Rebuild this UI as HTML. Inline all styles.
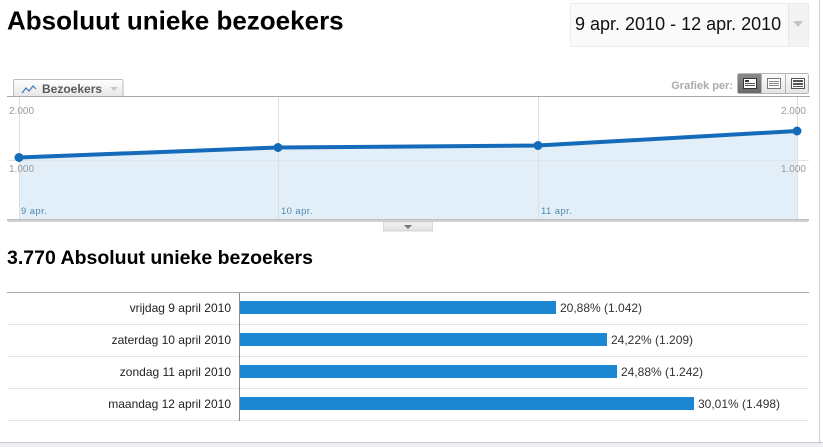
<!DOCTYPE html>
<html>
<head>
<meta charset="utf-8">
<style>
  html,body{margin:0;padding:0;background:#fff;}
  body{width:823px;height:447px;overflow:hidden;font-family:"Liberation Sans",Arial,sans-serif;}
  svg{display:block;}
</style>
</head>
<body>
<svg width="823" height="447" viewBox="0 0 823 447" xmlns="http://www.w3.org/2000/svg" font-family="Liberation Sans, Arial, sans-serif">
  <defs>
    <linearGradient id="tabg" x1="0" y1="0" x2="0" y2="1">
      <stop offset="0" stop-color="#ffffff"/>
      <stop offset="1" stop-color="#e6e6e6"/>
    </linearGradient>
    <linearGradient id="btng" x1="0" y1="0" x2="0" y2="1">
      <stop offset="0" stop-color="#fdfdfd"/>
      <stop offset="1" stop-color="#e4e4e4"/>
    </linearGradient>
    <linearGradient id="btnsel" x1="0" y1="0" x2="0" y2="1">
      <stop offset="0" stop-color="#8a8a8a"/>
      <stop offset="1" stop-color="#6a6a6a"/>
    </linearGradient>
    <linearGradient id="smallg" x1="0" y1="0" x2="0" y2="1">
      <stop offset="0" stop-color="#f4f4f4"/>
      <stop offset="1" stop-color="#dedede"/>
    </linearGradient>
  </defs>

  <!-- right border line -->
  <rect x="819" y="0" width="1" height="442" fill="#cfcfcf"/>
  <!-- bottom strip -->
  <rect x="0" y="442" width="823" height="1" fill="#c8c8c8"/>
  <rect x="0" y="443" width="823" height="4" fill="#eef0f3"/>

  <!-- Title -->
  <text x="7" y="29.5" font-size="26" font-weight="bold" fill="#000">Absoluut unieke bezoekers</text>

  <!-- Date box -->
  <rect x="570.5" y="3.5" width="238" height="43" fill="#fafafa" stroke="#ececec"/>
  <rect x="788" y="4" width="1" height="42" fill="#e8e8e8"/>
  <rect x="789" y="4" width="19" height="42" fill="#f3f3f3"/>
  <text x="575" y="30" font-size="18" fill="#111">9 apr. 2010 - 12 apr. 2010</text>
  <polygon points="793,21 803,21 798,27" fill="#c4c4c4"/>

  <!-- Tab Bezoekers -->
  <path d="M13.5,97 L13.5,81 Q13.5,79.5 15,79.5 L121.5,79.5 Q123,79.5 123,81 L123,97" fill="url(#tabg)" stroke="#bdbdbd"/>
  <polyline points="22,93 26,88 29,91 33,86 36,89" fill="none" stroke="#3a78c0" stroke-width="1.2"/>
  <text x="42" y="93" font-size="12" font-weight="bold" fill="#5a5a5a">Bezoekers</text>
  <polygon points="110,87 118,87 114,91" fill="#c8c8c8"/>

  <!-- Grafiek per -->
  <text x="733" y="89" font-size="11" font-weight="bold" fill="#ababab" text-anchor="end">Grafiek per:</text>
  <rect x="737.5" y="73.5" width="71" height="20" rx="2" fill="url(#btng)" stroke="#b5b5b5"/>
  <rect x="738" y="74" width="23" height="19" fill="url(#btnsel)"/>
  <rect x="761" y="74" width="1" height="19" fill="#b5b5b5"/>
  <rect x="785" y="74" width="1" height="19" fill="#b5b5b5"/>
  <!-- icons -->
  <rect x="743.5" y="78.5" width="13" height="10" fill="#fff" stroke="#333"/>
  <rect x="745" y="80" width="4" height="2" fill="#333"/>
  <rect x="745" y="83" width="10" height="1" fill="#555"/>
  <rect x="745" y="85" width="10" height="1" fill="#555"/>
  <rect x="767.5" y="78.5" width="13" height="10" fill="#fff" stroke="#777"/>
  <rect x="769" y="81" width="10" height="1" fill="#888"/>
  <rect x="769" y="83" width="10" height="1" fill="#888"/>
  <rect x="769" y="85" width="10" height="1" fill="#888"/>
  <rect x="791.5" y="78.5" width="13" height="10" fill="#fff" stroke="#555"/>
  <rect x="793" y="80" width="10" height="2" fill="#555"/>
  <rect x="793" y="83" width="10" height="2" fill="#555"/>
  <rect x="793" y="86" width="10" height="1" fill="#555"/>

  <!-- Chart top border -->
  <rect x="7" y="96" width="803" height="1" fill="#a9a9a9"/>

  <!-- area fill -->
  <polygon points="19,157.5 278,147.5 538,145.5 797,131 797,219 19,219" fill="#e3eff8"/>

  <!-- gridlines -->
  <rect x="7" y="160" width="802" height="1" fill="#e2e2e2" opacity="0.9"/>
  <rect x="19" y="97" width="1" height="122" fill="#dedede"/>
  <rect x="278" y="97" width="1" height="122" fill="#dedede"/>
  <rect x="538" y="97" width="1" height="122" fill="#dedede"/>
  <rect x="797" y="97" width="1" height="122" fill="#dedede"/>

  <!-- y labels -->
  <text x="9" y="114" font-size="10" fill="#9a9a9a">2.000</text>
  <text x="9" y="172" font-size="10" fill="#9a9a9a">1.000</text>
  <text x="806" y="114" font-size="10" fill="#9a9a9a" text-anchor="end">2.000</text>
  <text x="806" y="172" font-size="10" fill="#9a9a9a" text-anchor="end">1.000</text>

  <!-- x labels -->
  <text x="21" y="214" font-size="9.5" fill="#4a8aae" letter-spacing="0.4">9 apr.</text>
  <text x="281" y="214" font-size="9.5" fill="#4a8aae" letter-spacing="0.4">10 apr.</text>
  <text x="541" y="214" font-size="9.5" fill="#4a8aae" letter-spacing="0.4">11 apr.</text>

  <!-- line -->
  <polyline points="19,157.5 278,147.5 538,145.5 797,131" fill="none" stroke="#156ab9" stroke-width="4" stroke-linejoin="round"/>
  <circle cx="19" cy="157.5" r="4.5" fill="#156ab9"/>
  <circle cx="278" cy="147.5" r="4.5" fill="#156ab9"/>
  <circle cx="538" cy="145.5" r="4.5" fill="#156ab9"/>
  <circle cx="797" cy="131" r="4.5" fill="#156ab9"/>

  <!-- chart bottom bar -->
  <rect x="7" y="219" width="802" height="3" rx="1.5" fill="#d2d2d2"/>
  <rect x="7" y="219" width="802" height="1" fill="#bdbdbd"/>
  <rect x="383.5" y="222" width="49" height="9" fill="url(#smallg)" stroke="#d0d0d0" stroke-width="0.8"/>
  <polygon points="404,225 412,225 408,229" fill="#777"/>

  <!-- Heading 2 -->
  <text x="7" y="264" font-size="19.5" font-weight="bold" fill="#000">3.770 Absoluut unieke bezoekers</text>

  <!-- Bar table -->
  <rect x="7" y="292" width="802" height="1" fill="#a9a9a9"/>
  <rect x="7" y="324" width="802" height="1" fill="#e6e6e6"/>
  <rect x="7" y="356" width="802" height="1" fill="#e6e6e6"/>
  <rect x="7" y="388" width="802" height="1" fill="#e6e6e6"/>
  <rect x="7" y="420" width="802" height="1" fill="#e6e6e6"/>
  <rect x="239" y="293" width="1" height="128" fill="#8a8a8a"/>

  <g font-size="12" fill="#222">
    <text x="231" y="312" text-anchor="end">vrijdag 9 april 2010</text>
    <text x="231" y="344" text-anchor="end">zaterdag 10 april 2010</text>
    <text x="231" y="376" text-anchor="end">zondag 11 april 2010</text>
    <text x="231" y="408" text-anchor="end">maandag 12 april 2010</text>
  </g>

  <rect x="240" y="301" width="316" height="13" fill="#1c86d3"/>
  <rect x="240" y="333" width="367" height="13" fill="#1c86d3"/>
  <rect x="240" y="365" width="377" height="13" fill="#1c86d3"/>
  <rect x="240" y="397" width="454" height="13" fill="#1c86d3"/>

  <g font-size="12" fill="#333">
    <text x="560" y="312">20,88% (1.042)</text>
    <text x="611" y="344">24,22% (1.209)</text>
    <text x="621" y="376">24,88% (1.242)</text>
    <text x="698" y="408">30,01% (1.498)</text>
  </g>
</svg>
</body>
</html>
